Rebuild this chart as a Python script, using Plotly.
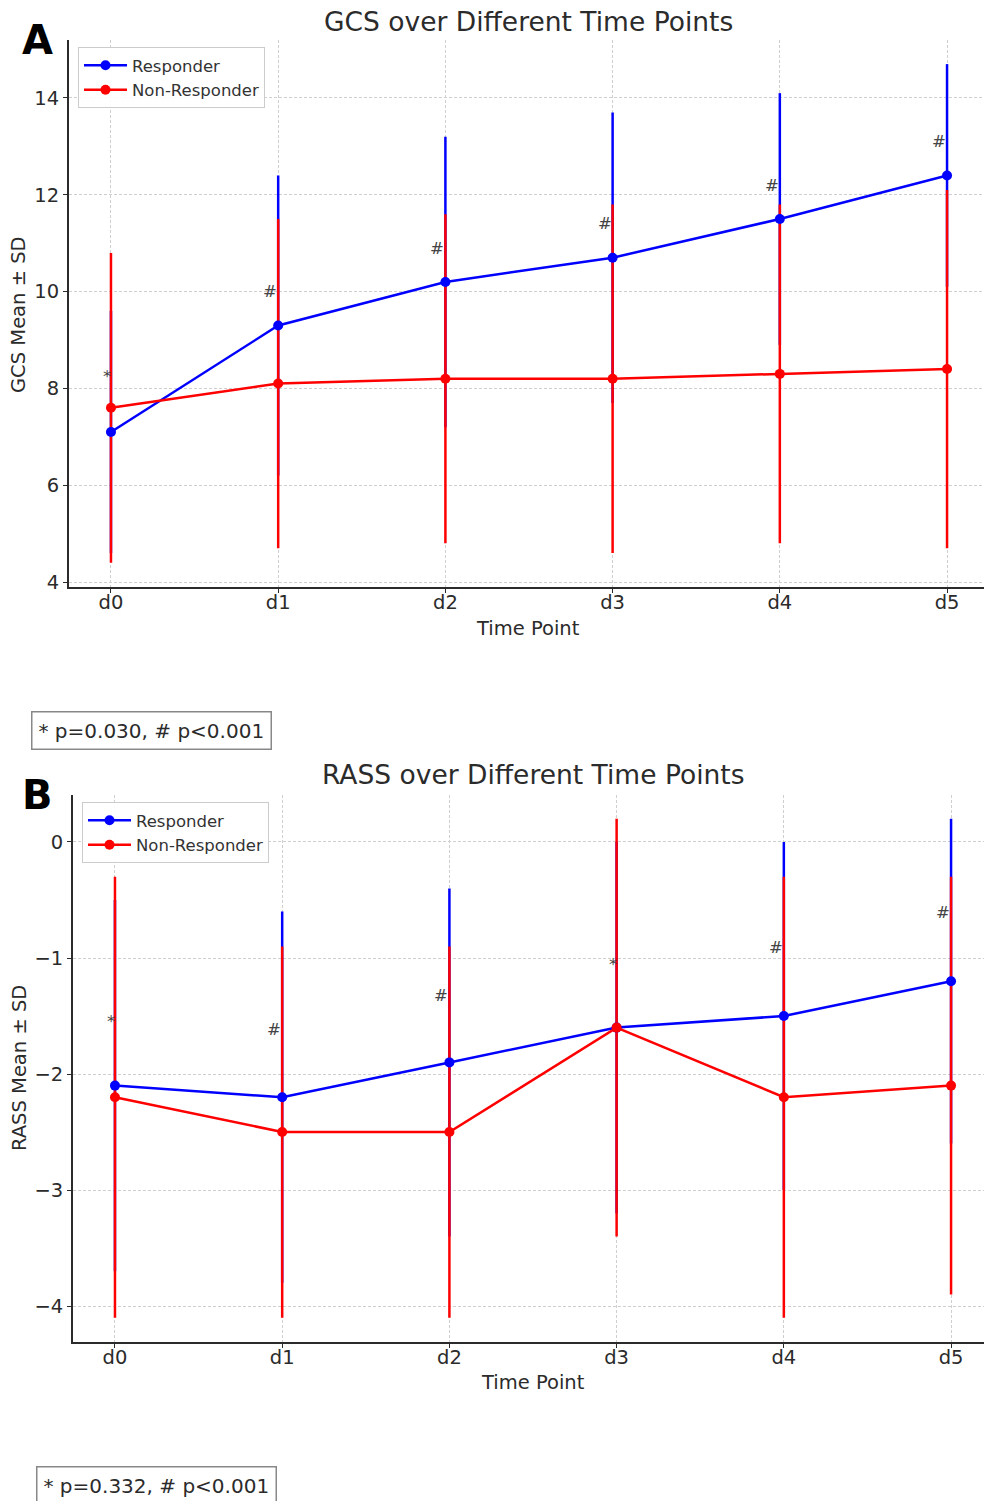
import plotly.graph_objects as go

time_points = ["d0", "d1", "d2", "d3", "d4", "d5"]

gcs_resp_mean = [7.1, 9.3, 10.2, 10.7, 11.5, 12.4]
gcs_resp_sd = [2.5, 3.1, 3.0, 3.0, 2.6, 2.3]
gcs_non_mean = [7.6, 8.1, 8.2, 8.2, 8.3, 8.4]
gcs_non_sd = [3.2, 3.4, 3.4, 3.6, 3.5, 3.7]
gcs_sig = ["*", "#", "#", "#", "#", "#"]
gcs_sig_y = [8.33, 10.0, 10.9, 11.4, 12.2, 13.1]
gcs_note = "* p=0.030, # p<0.001"

rass_resp_mean = [-2.1, -2.2, -1.9, -1.6, -1.5, -1.2]
rass_resp_sd = [1.6, 1.6, 1.5, 1.6, 1.5, 1.4]
rass_non_mean = [-2.2, -2.5, -2.5, -1.6, -2.2, -2.1]
rass_non_sd = [1.9, 1.6, 1.6, 1.8, 1.9, 1.8]
rass_sig = ["*", "#", "#", "*", "#", "#"]
rass_sig_y = [-1.51, -1.62, -1.32, -1.02, -0.91, -0.61]
rass_note = "* p=0.332, # p<0.001"

BLUE = "#0000ff"
RED = "#ff0000"
FONT = "DejaVu Sans"
TXT = "#2b2b2b"
W, H = 984, 1501

fig = go.Figure()


def add_panel(xa, ya, legend, rm, rs, nm, ns):
    # error bars first (below all data lines)
    for m, s, c in [(rm, rs, BLUE), (nm, ns, RED)]:
        fig.add_trace(go.Scatter(
            x=time_points, y=m, mode="markers",
            marker=dict(size=1, color=c, opacity=0),
            error_y=dict(type="data", array=s, visible=True, color=c,
                         thickness=2.5, width=0),
            xaxis=xa, yaxis=ya, showlegend=False, hoverinfo="skip"))
    for m, c, name in [(rm, BLUE, "Responder"), (nm, RED, "Non-Responder")]:
        fig.add_trace(go.Scatter(
            x=time_points, y=m, mode="lines+markers", name=name,
            line=dict(color=c, width=2.5), marker=dict(color=c, size=10),
            xaxis=xa, yaxis=ya, legend=legend))


add_panel("x", "y", "legend", gcs_resp_mean, gcs_resp_sd, gcs_non_mean, gcs_non_sd)
add_panel("x2", "y2", "legend2", rass_resp_mean, rass_resp_sd, rass_non_mean, rass_non_sd)

axis_common = dict(
    showline=True, linecolor=TXT, linewidth=1.8, mirror=False,
    ticks="outside", ticklen=4, tickcolor=TXT, tickwidth=1.2,
    showgrid=True, gridcolor="#cfcfcf", griddash="3px,2px", gridwidth=1,
    zeroline=False, tickfont=dict(family=FONT, size=19.5, color=TXT),
)
xaxis_extra = dict(ticklabelstandoff=-7)

legend_common = dict(
    xanchor="left", yanchor="top",
    bgcolor="rgba(255,255,255,0.9)", bordercolor="#cccccc",
    borderwidth=1, font=dict(family=FONT, size=16.5, color="#333333"),
    tracegroupgap=0, itemwidth=43,
)

fig.update_layout(
    width=W, height=H,
    margin=dict(l=0, r=0, t=0, b=0, autoexpand=False),
    paper_bgcolor="white", plot_bgcolor="white",
    font=dict(family=FONT, color=TXT),
    xaxis=dict(axis_common, **xaxis_extra, domain=[69 / W, 1.0], anchor="y",
               type="category", range=[-0.251, 5.221]),
    yaxis=dict(axis_common, domain=[1 - 587 / H, 1 - 40 / H], anchor="x",
               range=[3.897, 15.198], tickvals=[4, 6, 8, 10, 12, 14]),
    xaxis2=dict(axis_common, **xaxis_extra, domain=[73 / W, 1.0], anchor="y2",
                type="category", range=[-0.251, 5.197]),
    yaxis2=dict(axis_common, domain=[1 - 1342 / H, 1 - 795 / H], anchor="x2",
                range=[-4.31, 0.405], tickvals=[-4, -3, -2, -1, 0]),
    legend=dict(legend_common, x=78 / W, y=1 - 47 / H),
    legend2=dict(legend_common, x=82 / W, y=1 - 802 / H),
    showlegend=True,
)

ann = []


def paper_text(text, x, y, size, bold=False, angle=0, **kw):
    ann.append(dict(
        text=f"<b>{text}</b>" if bold else text,
        x=x / W, y=1 - y / H, xref="paper", yref="paper",
        xanchor="center", yanchor="middle", showarrow=False,
        textangle=angle, font=dict(family=FONT, size=size,
                                   color="black" if bold else TXT), **kw))


# titles, axis labels, panel letters
paper_text("GCS over Different Time Points", 528, 21, 26.5)
paper_text("RASS over Different Time Points", 533, 775, 26.5)
paper_text("Time Point", 528, 628, 19.5)
paper_text("Time Point", 533, 1382, 19.5)
paper_text("GCS Mean ± SD", 19, 315, 19.5, angle=-90)
paper_text("RASS Mean ± SD", 19, 1068, 19.5, angle=-90)
paper_text("A", 37, 40, 40, bold=True)
paper_text("B", 37, 795, 40, bold=True)
paper_text(gcs_note, 151, 730, 20, bordercolor="#888888", borderwidth=1.5,
           borderpad=6, bgcolor="white")
paper_text(rass_note, 156, 1485, 20, bordercolor="#888888", borderwidth=1.5,
           borderpad=6, bgcolor="white")

# significance markers
for xr, yr, sig, sy in [("x", "y", gcs_sig, gcs_sig_y), ("x2", "y2", rass_sig, rass_sig_y)]:
    for tp, s, yv in zip(time_points, sig, sy):
        ann.append(dict(
            text=s, x=tp, y=yv, xref=xr, yref=yr, showarrow=False,
            xanchor="center", yanchor="middle",
            xshift=-8 if s == "#" else -4, yshift=0 if s == "#" else -4,
            font=dict(family=FONT, size=16.5, color="#444444")))

fig.update_layout(annotations=ann)

fig.write_html("out.html", config={"displayModeBar": False},
               post_script="document.body.style.margin='0px';"
                           "document.body.style.padding='0px';")
